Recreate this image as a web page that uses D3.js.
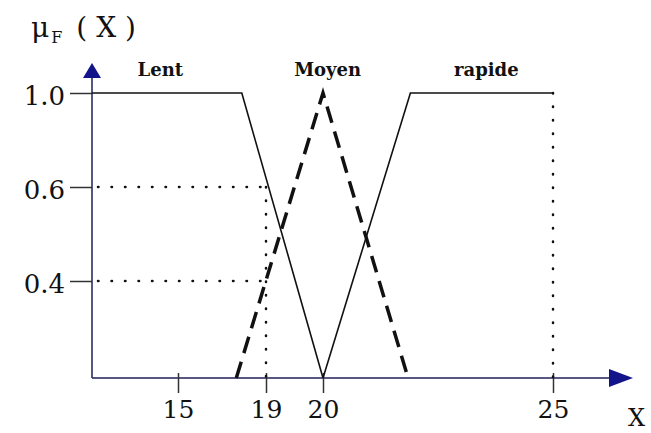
<!DOCTYPE html>
<html>
<head>
<meta charset="utf-8">
<script src="https://cdn.jsdelivr.net/npm/d3@7"></script>
<style>
  body { margin: 0; background: #fff; }
  svg { display: block; }
</style>
</head>
<body>
<svg id="chart"></svg>
<script>
// membership functions (x in input units, y in membership degree)
const xOrigin = 11.1;
const lentPoints = [[xOrigin, 1], [17.9, 1], [20, 0]];
const moyenPoints = [[17.65, 0], [20, 1], [21.85, 0]];
const rapidePoints = [[20, 0], [21.9, 1], [25, 1]];
const setLabels = [
  { name: "Lent", x: 14.2, y: 1 },
  { name: "Moyen", x: 20.1, y: 1 },
  { name: "rapide", x: 23.55, y: 1 }
];
const xTicks = [15, 19, 20, 25];
const yTicks = [0.4, 0.6, 1.0];
// reading guides: value 19 gives 0.6 / 0.4
const guideX = 19;
const guideLevels = [0.6, 0.4];
const guideEnd = 25;

const width = 651, height = 433;
const svg = d3.select("#chart").attr("width", width).attr("height", height);

// the drawing is not to scale, so both scales are piecewise
const x = d3.scaleLinear()
  .domain([xOrigin, 15, 19, 20, 25])
  .range([92, 178, 266, 323, 553]);
const y = d3.scaleLinear()
  .domain([0, 0.4, 0.6, 1.0])
  .range([378, 281, 187, 93]);

const serif = "DejaVu Serif, serif";
const navy = "#1f1f5a";
const arrowFill = "#13148a";

// axes lines
svg.append("line")
  .attr("x1", x(xOrigin)).attr("x2", 612)
  .attr("y1", y(0)).attr("y2", y(0))
  .attr("stroke", navy).attr("stroke-width", 1.5);
svg.append("line")
  .attr("x1", x(xOrigin)).attr("x2", x(xOrigin))
  .attr("y1", y(0)).attr("y2", 76)
  .attr("stroke", navy).attr("stroke-width", 1.5);

// arrow heads
svg.append("path")
  .attr("d", `M${x(xOrigin)},63 L${x(xOrigin) - 9},78 L${x(xOrigin) + 9},78 Z`)
  .attr("fill", arrowFill);
svg.append("path")
  .attr("d", `M633,${y(0)} L609,${y(0) - 9} L609,${y(0) + 9} Z`)
  .attr("fill", arrowFill);

// y axis ticks
const yAxis = d3.axisLeft(y).tickValues(yTicks).tickSize(22).tickPadding(5)
  .tickFormat(d3.format(".1f"));
const yg = svg.append("g")
  .attr("transform", `translate(${x(xOrigin)},0)`)
  .call(yAxis);
yg.select(".domain").remove();
yg.selectAll(".tick line").attr("stroke", "#333").attr("stroke-width", 1.5);
yg.selectAll(".tick text")
  .attr("font-family", serif)
  .attr("font-size", 26)
  .attr("dy", "0.45em")
  .attr("fill", "#111");

// x axis ticks
const xAxis = d3.axisBottom(x).tickValues(xTicks).tickSize(15).tickPadding(7);
const xg = svg.append("g")
  .attr("transform", `translate(0,${y(0)})`)
  .call(xAxis);
xg.select(".domain").remove();
xg.selectAll(".tick line").attr("y1", -5).attr("stroke", "#333").attr("stroke-width", 1.5);
xg.selectAll(".tick text")
  .attr("font-family", serif)
  .attr("font-size", 25)
  .attr("fill", "#111");

// dotted guides
const dotted = sel => sel
  .attr("stroke", "#111").attr("stroke-width", 2.5)
  .attr("stroke-linecap", "round").attr("stroke-dasharray", "0.5,13")
  .attr("fill", "none");

guideLevels.forEach(v => {
  svg.append("line")
    .attr("x1", x(xOrigin) + 6).attr("x2", x(guideX) + 3)
    .attr("y1", y(v)).attr("y2", y(v))
    .call(dotted);
});
svg.append("line")
  .attr("x1", x(guideX)).attr("x2", x(guideX))
  .attr("y1", y(d3.max(guideLevels))).attr("y2", y(0))
  .call(dotted);
svg.append("line")
  .attr("x1", x(guideEnd)).attr("x2", x(guideEnd))
  .attr("y1", y(1)).attr("y2", y(0))
  .call(dotted);

// membership curves
const line = d3.line().x(d => x(d[0])).y(d => y(d[1]));

svg.append("path").datum(lentPoints)
  .attr("d", line).attr("fill", "none")
  .attr("stroke", "#111").attr("stroke-width", 1.6);
svg.append("path").datum(rapidePoints)
  .attr("d", line).attr("fill", "none")
  .attr("stroke", "#111").attr("stroke-width", 1.6);
svg.append("path").datum(moyenPoints)
  .attr("d", line).attr("fill", "none")
  .attr("stroke", "#111").attr("stroke-width", 3.5)
  .attr("stroke-dasharray", "17,9");

// set names
svg.selectAll(".set-label")
  .data(setLabels)
  .enter().append("text")
  .attr("class", "set-label")
  .attr("x", d => x(d.x))
  .attr("y", d => y(d.y) - 17)
  .attr("text-anchor", "middle")
  .attr("font-family", serif)
  .attr("font-weight", "bold")
  .attr("font-size", 18)
  .attr("fill", "#111")
  .text(d => d.name);

// axis titles
const yTitle = svg.append("text")
  .attr("x", 31).attr("y", 37)
  .attr("font-family", serif)
  .attr("font-size", 28)
  .attr("fill", "#111");
yTitle.append("tspan").text("μ");
yTitle.append("tspan").attr("font-size", 16).attr("dy", 6).attr("dx", 2).text("F");
yTitle.append("tspan").attr("dy", -6).attr("dx", 14).text("( X )");

svg.append("text")
  .attr("x", 628).attr("y", 426)
  .attr("font-family", serif)
  .attr("font-size", 24)
  .attr("fill", "#111")
  .text("X");
</script>
</body>
</html>
